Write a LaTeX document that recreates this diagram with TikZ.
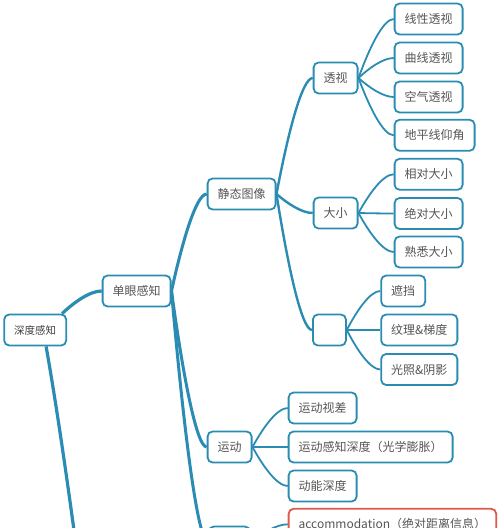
\documentclass[tikz,border=0pt]{standalone}
\usepackage{fontspec}
\setmainfont{Noto Sans CJK SC}
\usetikzlibrary{calc}

\definecolor{mapblue}{HTML}{2A8CB2}
\definecolor{mapred}{HTML}{E0584B}
\definecolor{maptext}{HTML}{555555}

\tikzset{
	topic/.style={draw=mapblue, line width=1.8pt, rounded corners=5pt, fill=white,
		text=maptext, font=\fontsize{12}{14}\selectfont, inner xsep=10pt,
		inner ysep=0pt, minimum height=31pt, anchor=west},
	branch/.style={draw=mapblue, line width=#1,
		to path={let \p1=(\tikztostart), \p2=(\tikztotarget) in
			.. controls ({\x1+0.3*(\x2-\x1)},{\y1+0.5*(\y2-\y1)})
			and ({\x1+0.7*(\x2-\x1)},{\y2}) .. (\tikztotarget)}},
	branch/.default=1.8pt
}

\begin{document}
\begin{tikzpicture}[x=1pt, y=-1pt]
	% page
	\fill[white] (0,0) rectangle (500,528);
	\useasboundingbox (0,0) rectangle (500,528);
	
	\def\xa{208} % column of the second level
	\def\xb{313} % column of the third level
	\def\xc{394} % column of the leaves
	
	% root and first level
	\node[topic, text=black!75, font=\fontsize{10.5}{12}\selectfont] (depth) at (3.3,330) {深度感知};
	\node[topic] (mono) at (101.7,291) {单眼感知};
	
	% second level
	\node[topic] (static) at (\xa-1.3,194) {静态图像};
	\node[topic] (motion) at (\xa-1.3,447) {运动};
	\node[topic, minimum width=41pt] (adjust) at (\xa,542) {};
	
	% third level
	\node[topic] (persp) at (\xb-0.3,78) {透视};
	\node[topic] (size) at (\xb-0.3,213) {大小};
	\node[topic, minimum width=33pt] (other) at (\xb-1,330) {};
	
	% leaves of persp
	\node[topic] (linear) at (\xc-0.3,19) {线性透视};
	\node[topic] (curve) at (\xc-0.3,58) {曲线透视};
	\node[topic] (aerial) at (\xc-0.3,97) {空气透视};
	\node[topic] (horizon) at (\xc-0.3,135.3) {地平线仰角};
	
	% leaves of size
	\node[topic] (relsize) at (\xc-0.3,174.3) {相对大小};
	\node[topic] (abssize) at (\xc-0.3,213.5) {绝对大小};
	\node[topic] (famsize) at (\xc-0.3,252) {熟悉大小};
	
	% leaves of other
	\node[topic] (occl) at (380.3,291) {遮挡};
	\node[topic] (texture) at (380.3,330) {纹理\&梯度};
	\node[topic] (light) at (380.3,369.5) {光照\&阴影};
	
	% leaves of motion
	\node[topic] (parallax) at (287.7,408) {运动视差};
	\node[topic] (loom) at (287.7,447) {运动感知深度（光学膨胀）};
	\node[topic] (kinetic) at (287.7,486) {动能深度};
	
	% accommodation, red frame
	\node[topic, draw=mapred] (accom) at (287.7,524.3) {accommodation（绝对距离信息）};
	
	% branches of the root
	\coordinate (bino) at (78,560);
	\draw[branch=3.2pt] ([xshift=-5pt]depth.north east) to (mono.west);
	\draw[mapblue, line width=3.2pt] ([xshift=-21pt]depth.south east)
		.. controls (52,380) and (62,440) .. (bino);
	
	% branches of mono
	\foreach \c in {static,motion,adjust}
		\draw[branch=3pt] (mono.east) to (\c.west);
	
	% branches of static
	\foreach \c in {persp,size,other}
		\draw[branch=2.4pt] (static.east) to (\c.west);
	
	% leaves
	\foreach \c in {linear,curve,aerial,horizon}
		\draw[branch] (persp.east) to (\c.west);
	\foreach \c in {relsize,abssize,famsize}
		\draw[branch] (size.east) to (\c.west);
	\foreach \c in {occl,texture,light}
		\draw[branch] (other.east) to (\c.west);
	\foreach \c in {parallax,loom,kinetic}
		\draw[branch] (motion.east) to (\c.west);
	\draw[branch] (adjust.east) to (accom.west);
\end{tikzpicture}
\end{document}
